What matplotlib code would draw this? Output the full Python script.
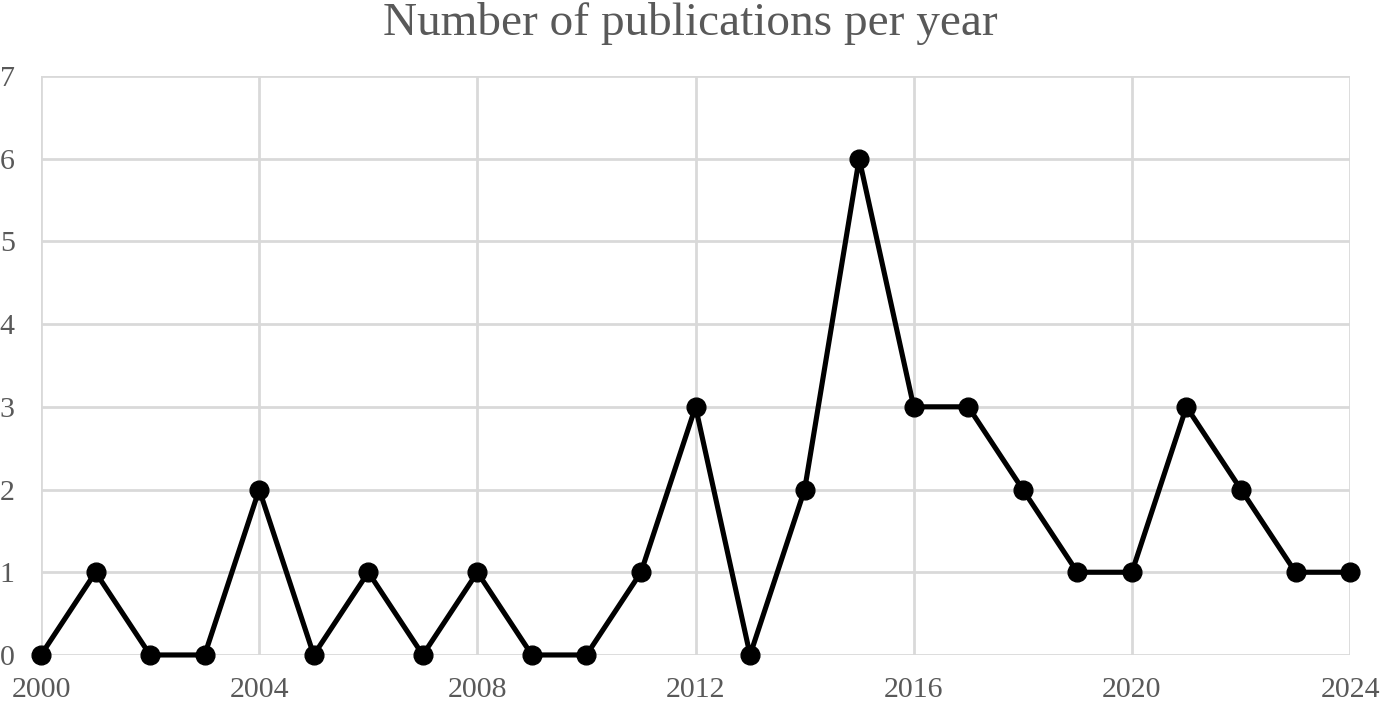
import matplotlib.pyplot as plt

# publications per year
years = list(range(2000, 2025))
counts = [0, 1, 0, 0, 2, 0, 1, 0, 1, 0, 0, 1, 3, 0, 2, 6, 3, 3, 2, 1, 1, 3, 2, 1, 1]
x_ticks = list(range(2000, 2025, 4))
y_ticks = list(range(0, 8))

TEXT = "#595959"
GRID = "#d9d9d9"

plt.rcParams["font.family"] = ["Liberation Serif", "DejaVu Serif"]

fig = plt.figure(figsize=(13.81, 7.02), dpi=100)
ax = fig.add_axes([0.0297, 0.0670, 0.9479, 0.8248])

ax.plot(years, counts, color="black", linewidth=3.7, marker="o",
        markersize=13.5, clip_on=False, zorder=3)

ax.set_xlim(2000, 2024)
ax.set_ylim(0, 7)
ax.set_xticks(x_ticks)
ax.set_yticks(y_ticks)
ax.grid(True, color=GRID, linewidth=2.0)
ax.set_axisbelow(True)
for s in ax.spines.values():
    s.set_visible(False)

ax.tick_params(axis="x", length=0, pad=16, labelsize=21.5, labelcolor=TEXT)
ax.tick_params(axis="y", length=0, pad=19, labelsize=21.5, labelcolor=TEXT)

fig.text(0.5, 0.997, "Number of publications per year", ha="center", va="top",
         fontsize=34, color=TEXT)

fig.savefig("out.png", dpi=100)
